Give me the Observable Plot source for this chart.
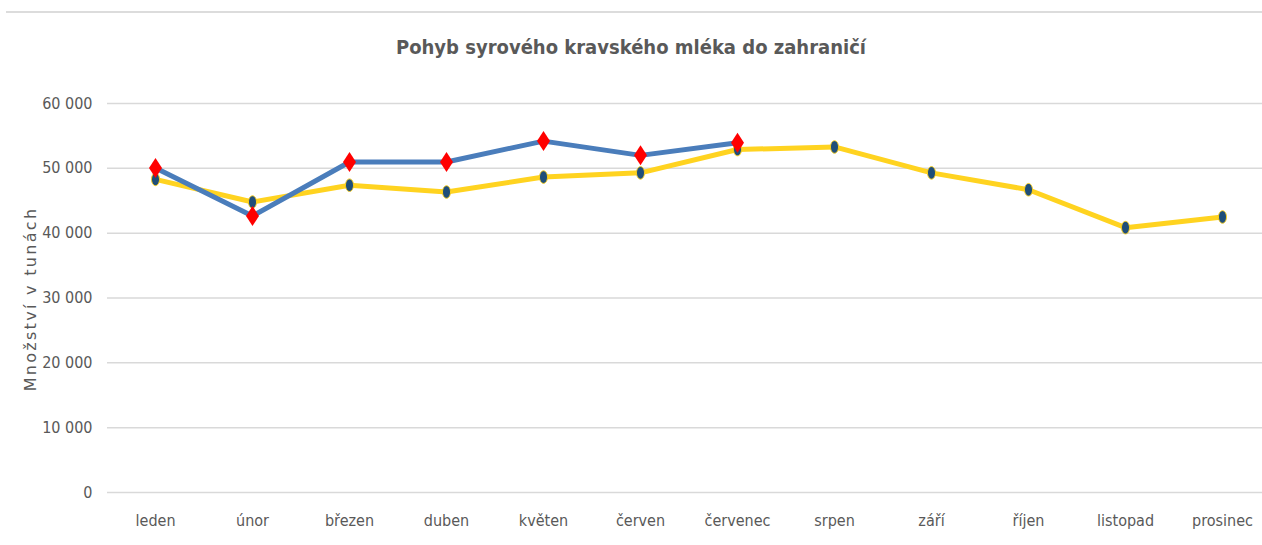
<!DOCTYPE html>
<html>
<head>
<meta charset="utf-8">
<script src="https://cdn.jsdelivr.net/npm/d3@7"></script>
<script src="https://cdn.jsdelivr.net/npm/@observablehq/plot@0.6"></script>
<style>
  html, body { margin: 0; padding: 0; background: #fff; }
  #wrap { position: relative; width: 1262px; height: 545px; overflow: hidden; }
  #border { position: absolute; left: 6px; right: 0; top: 11px; height: 2px; background: #dcdcdc; }
  #title { position: absolute; left: 0; width: 1262px; top: 35px; text-align: center;
    font-family: "DejaVu Sans Condensed", "Liberation Sans Narrow", sans-serif; font-stretch: condensed;
    font-weight: bold; font-size: 20px; color: #595959; }
  #ylabel { position: absolute; left: 30px; top: 299px; transform: translate(-50%, -50%) rotate(-90deg);
    font-family: "DejaVu Sans", sans-serif; font-size: 16px; letter-spacing: 2.3px; color: #595959; white-space: nowrap; }
  #chart { position: absolute; left: 0; top: 0; }
  #chart text { font-family: "DejaVu Sans Condensed", "Liberation Sans Narrow", sans-serif; font-stretch: condensed; }
</style>
</head>
<body>
<div id="wrap">
  <div id="border"></div>
  <div id="chart"></div>
  <div id="title">Pohyb syrového kravského mléka do zahraničí</div>
  <div id="ylabel">Množství v tunách</div>
</div>
<script>
const months = ["leden","únor","březen","duben","květen","červen","červenec","srpen","září","říjen","listopad","prosinec"];
const seriesYellow = [48300, 44800, 47400, 46350, 48650, 49300, 52900, 53300, 49300, 46700, 40850, 42500];
const seriesBlue = [50050, 42650, 50980, 50980, 54200, 52000, 53950];
const yTicks = [0, 10000, 20000, 30000, 40000, 50000, 60000];

const yellowData = seriesYellow.map((v, i) => ({month: months[i], value: v}));
const blueData = seriesBlue.map((v, i) => ({month: months[i], value: v}));

function ellipsePath(ctx, rx, ry) {
  const k = 0.5523;
  ctx.moveTo(rx, 0);
  ctx.bezierCurveTo(rx, ry * k, rx * k, ry, 0, ry);
  ctx.bezierCurveTo(-rx * k, ry, -rx, ry * k, -rx, 0);
  ctx.bezierCurveTo(-rx, -ry * k, -rx * k, -ry, 0, -ry);
  ctx.bezierCurveTo(rx * k, -ry, rx, -ry * k, rx, 0);
  ctx.closePath();
}
const ellipseSymbol = { draw(ctx, size) { ellipsePath(ctx, 4, 6.3); } };
const diamondSymbol = { draw(ctx, size) {
  ctx.moveTo(0, -10); ctx.lineTo(6.5, 0); ctx.lineTo(0, 10); ctx.lineTo(-6.5, 0); ctx.closePath();
} };

const fmt = d => d3.format(",")(d).replace(/,/g, " ");

const chart = Plot.plot({
  width: 1262,
  height: 545,
  marginTop: 103,
  marginBottom: 53,
  marginLeft: 107,
  marginRight: 0,
  style: { fontSize: "15px", color: "#595959", background: "transparent" },
  x: { type: "point", domain: months, range: [155, 1222], padding: 0, label: null },
  y: { domain: [0, 60000], label: null },
  marks: [
    Plot.ruleY(yTicks, { stroke: "#d9d9d9", strokeWidth: 1.5 }),
    Plot.axisY({ ticks: yTicks, tickFormat: fmt, tickSize: 0, tickPadding: 15, label: null, fill: "#595959", fontSize: 16 }),
    Plot.axisX({ tickSize: 0, tickPadding: 22, label: null, fill: "#595959", fontSize: 16 }),
    Plot.line(yellowData, { x: "month", y: "value", stroke: "#ffd320", strokeWidth: 5, strokeLinejoin: "round" }),
    Plot.line(blueData, { x: "month", y: "value", stroke: "#4a7dbb", strokeWidth: 5, strokeLinejoin: "round" }),
    Plot.dot(yellowData, { x: "month", y: "value", symbol: ellipseSymbol, fill: "#1f4e79", stroke: "#ffd320", strokeWidth: 1 }),
    Plot.dot(blueData, { x: "month", y: "value", symbol: diamondSymbol, fill: "#ff0000", stroke: "none" })
  ]
});
document.getElementById("chart").appendChild(chart);
</script>
</body>
</html>
